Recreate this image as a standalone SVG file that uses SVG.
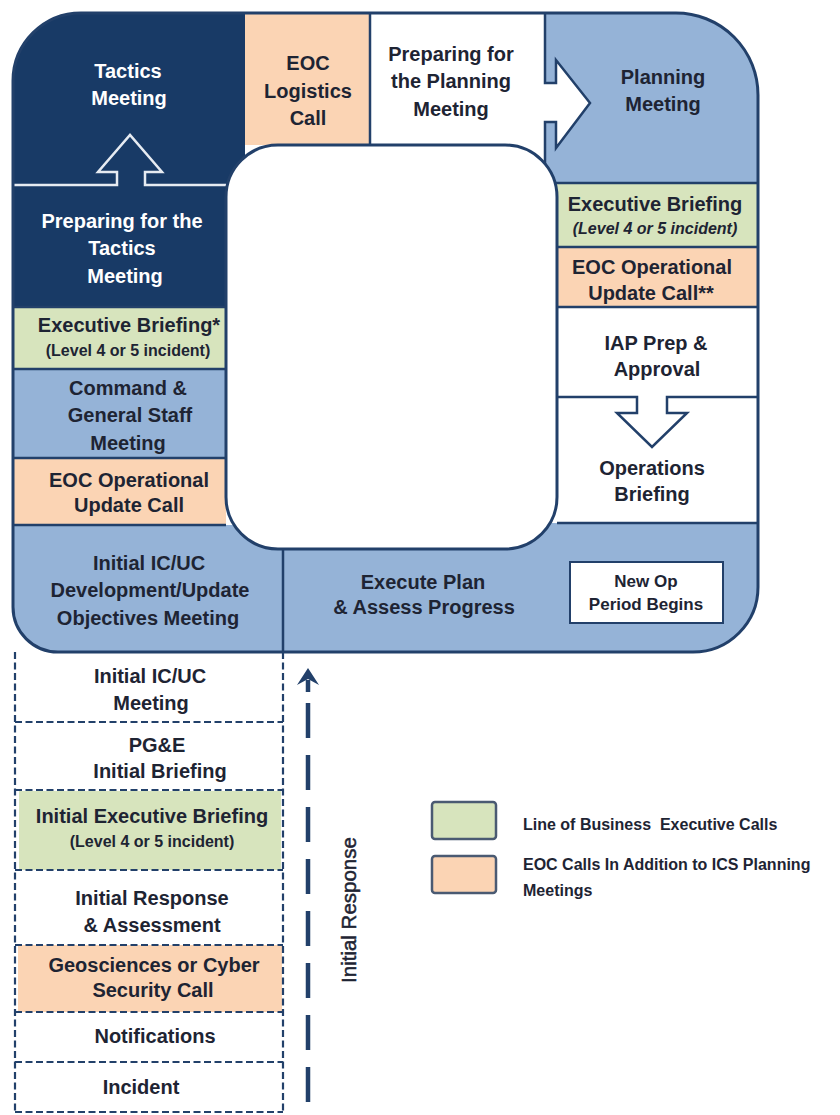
<svg xmlns="http://www.w3.org/2000/svg" width="840" height="1115" viewBox="0 0 840 1115">
<style>
.t{font-family:"Liberation Sans",Arial,sans-serif;font-weight:bold;font-size:20px;text-anchor:middle;fill:#1e2433}
.w{fill:#ffffff}
.s{font-size:16px}
.i{font-style:italic}
.sep{stroke:#22406a;stroke-width:2.5;fill:none}
.dash{stroke:#22406a;stroke-width:2.2;fill:none;stroke-dasharray:7 3.5}
.navy{fill:#183a66}
.blue{fill:#95b3d7}
.green{fill:#d7e4bd}
.peach{fill:#fbd4b4}
.white{fill:#ffffff}
.lg{font-family:"Liberation Sans",Arial,sans-serif;font-weight:bold;font-size:16px;fill:#1e2433}
</style>
<defs>
<clipPath id="ring"><path d="M81 13H676A82 82 0 0 1 758 95V587A65 65 0 0 1 693 652H58A45 45 0 0 1 13 607V81A68 68 0 0 1 81 13Z"/></clipPath>
</defs>
<rect width="840" height="1115" fill="#ffffff"/>

<g clip-path="url(#ring)">
<g id="tactics-meeting"><rect class="navy" x="13" y="13" width="232" height="172"/></g>
<g id="eoc-logistics"><rect class="peach" x="245" y="13" width="125" height="132"/></g>
<g id="prep-planning"><rect class="white" x="370" y="13" width="175" height="132"/></g>
<g id="planning-meeting"><rect class="blue" x="545" y="13" width="213" height="170"/></g>
<g id="prep-tactics"><rect class="navy" x="13" y="185" width="213" height="122"/></g>
<g id="exec-brief-left"><rect class="green" x="13" y="307" width="213" height="62"/></g>
<g id="cmd-gen-staff"><rect class="blue" x="13" y="369" width="213" height="89"/></g>
<g id="eoc-op-left"><rect class="peach" x="13" y="458" width="213" height="67"/></g>
<g id="initial-icuc-dev"><rect class="blue" x="13" y="525" width="270" height="127"/></g>
<g id="execute-plan"><rect class="blue" x="283" y="523" width="475" height="129"/></g>
<g id="exec-brief-right"><rect class="green" x="557" y="183" width="201" height="64"/></g>
<g id="eoc-op-right"><rect class="peach" x="557" y="247" width="201" height="60"/></g>
<g id="iap-prep"><rect class="white" x="557" y="307" width="201" height="90"/></g>
<g id="ops-briefing"><rect class="white" x="557" y="397" width="201" height="126"/></g>

<g id="connectors">
<path d="M13 185H117V172H98L130 135L162 172H145V185H226" fill="#183a66" stroke="#e6ebf2" stroke-width="2.5"/>
<path d="M545 83H556V60L590 103L556 148V122H545Z" fill="#ffffff"/>
<path class="sep" d="M545 13V83H556V60L590 103L556 148V122H545V172"/>
<path class="sep" d="M557 397H637V413H617L652 447L687 413H667V397H758" fill="#ffffff"/>
</g>

<path class="sep" d="M370 13V145M545 183H758M13 307H226M13 369H226M13 458H226M13 525H226M557 247H758M557 307H758M557 523H758M283 540V652"/>
</g>

<g id="new-op-period">
<rect x="570" y="562" width="153" height="61" fill="#ffffff" stroke="#22406a" stroke-width="2"/>
<text class="t" x="646" y="587" style="font-size:17px">New Op</text>
<text class="t" x="646" y="610" style="font-size:17px">Period Begins</text>
</g>

<g id="center-hole">
<rect x="226" y="145" width="331" height="404" rx="52" fill="#ffffff" stroke="#22406a" stroke-width="3"/>
</g>
<path d="M81 13H676A82 82 0 0 1 758 95V587A65 65 0 0 1 693 652H58A45 45 0 0 1 13 607V81A68 68 0 0 1 81 13Z" fill="none" stroke="#22406a" stroke-width="3"/>

<text class="t w" x="128" y="78">Tactics</text>
<text class="t w" x="129" y="105">Meeting</text>
<text class="t" x="308" y="70">EOC</text>
<text class="t" x="308" y="98">Logistics</text>
<text class="t" x="308" y="125">Call</text>
<text class="t" x="451" y="61">Preparing for</text>
<text class="t" x="451" y="88">the Planning</text>
<text class="t" x="451" y="116">Meeting</text>
<text class="t" x="663" y="84">Planning</text>
<text class="t" x="663" y="111">Meeting</text>
<text class="t w" x="122" y="228">Preparing for the</text>
<text class="t w" x="122" y="255">Tactics</text>
<text class="t w" x="125" y="283">Meeting</text>
<text class="t" x="129" y="332">Executive Briefing*</text>
<text class="t s" x="128" y="356">(Level 4 or 5 incident)</text>
<text class="t" x="128" y="395">Command &amp;</text>
<text class="t" x="130" y="422">General Staff</text>
<text class="t" x="128" y="450">Meeting</text>
<text class="t" x="129" y="487">EOC Operational</text>
<text class="t" x="129" y="512">Update Call</text>
<text class="t" x="149" y="570">Initial IC/UC</text>
<text class="t" x="150" y="597">Development/Update</text>
<text class="t" x="148" y="625">Objectives Meeting</text>
<text class="t" x="423" y="589">Execute Plan</text>
<text class="t" x="424" y="614">&amp; Assess Progress</text>
<text class="t" x="655" y="211">Executive Briefing</text>
<text class="t s i" x="655" y="234">(Level 4 or 5 incident)</text>
<text class="t" x="652" y="274">EOC Operational</text>
<text class="t" x="651" y="300">Update Call**</text>
<text class="t" x="656" y="350">IAP Prep &amp;</text>
<text class="t" x="657" y="376">Approval</text>
<text class="t" x="652" y="475">Operations</text>
<text class="t" x="652" y="501">Briefing</text>

<g id="initial-response-cells">
<rect class="green" x="19" y="791" width="262" height="79"/>
<rect class="peach" x="18" y="945" width="264" height="67"/>
<path class="dash" d="M15 652V1113M283 652V1113M15 722H283M15 790H283M15 870H283M15 945H283M15 1012H283M15 1062H283M15 1112H283"/>
</g>
<g id="initial-icuc-meeting"><text class="t" x="150" y="683">Initial IC/UC</text><text class="t" x="151" y="710">Meeting</text></g>
<g id="pge-briefing"><text class="t" x="157" y="752">PG&amp;E</text><text class="t" x="160" y="778">Initial Briefing</text></g>
<g id="initial-exec-briefing"><text class="t" x="152" y="823">Initial Executive Briefing</text><text class="t s" x="152" y="847">(Level 4 or 5 incident)</text></g>
<g id="initial-response-assessment"><text class="t" x="152" y="905">Initial Response</text><text class="t" x="152" y="932">&amp; Assessment</text></g>
<g id="geosciences-call"><text class="t" x="154" y="972">Geosciences or Cyber</text><text class="t" x="153" y="997">Security Call</text></g>
<g id="notifications"><text class="t" x="155" y="1043">Notifications</text></g>
<g id="incident"><text class="t" x="141" y="1094">Incident</text></g>

<g id="initial-response-arrow">
<path d="M308 1102V703" stroke="#22406a" stroke-width="4.5" stroke-dasharray="35 17" fill="none"/>
<path d="M308 680V692" stroke="#22406a" stroke-width="4.5"/>
<path d="M297 685L308 668L319 685L308 679Z" fill="#22406a"/>
<text x="0" y="0" transform="translate(356 910) rotate(-90)" style="font-family:'Liberation Sans',Arial,sans-serif;font-size:20.5px;fill:#1e2433;stroke:#1e2433;stroke-width:0.5;text-anchor:middle">Initial Response</text>
</g>

<g id="legend">
<rect x="432" y="802" width="64" height="37" rx="3" fill="#d7e4bd" stroke="#4a5a72" stroke-width="2.5"/>
<rect x="432" y="856" width="64" height="37" rx="3" fill="#fbd4b4" stroke="#4a5a72" stroke-width="2.5"/>
<text class="lg" x="523" y="830" xml:space="preserve">Line of Business  Executive Calls</text>
<text class="lg" x="523" y="870">EOC Calls In Addition to ICS Planning</text>
<text class="lg" x="523" y="896">Meetings</text>
</g>
</svg>
